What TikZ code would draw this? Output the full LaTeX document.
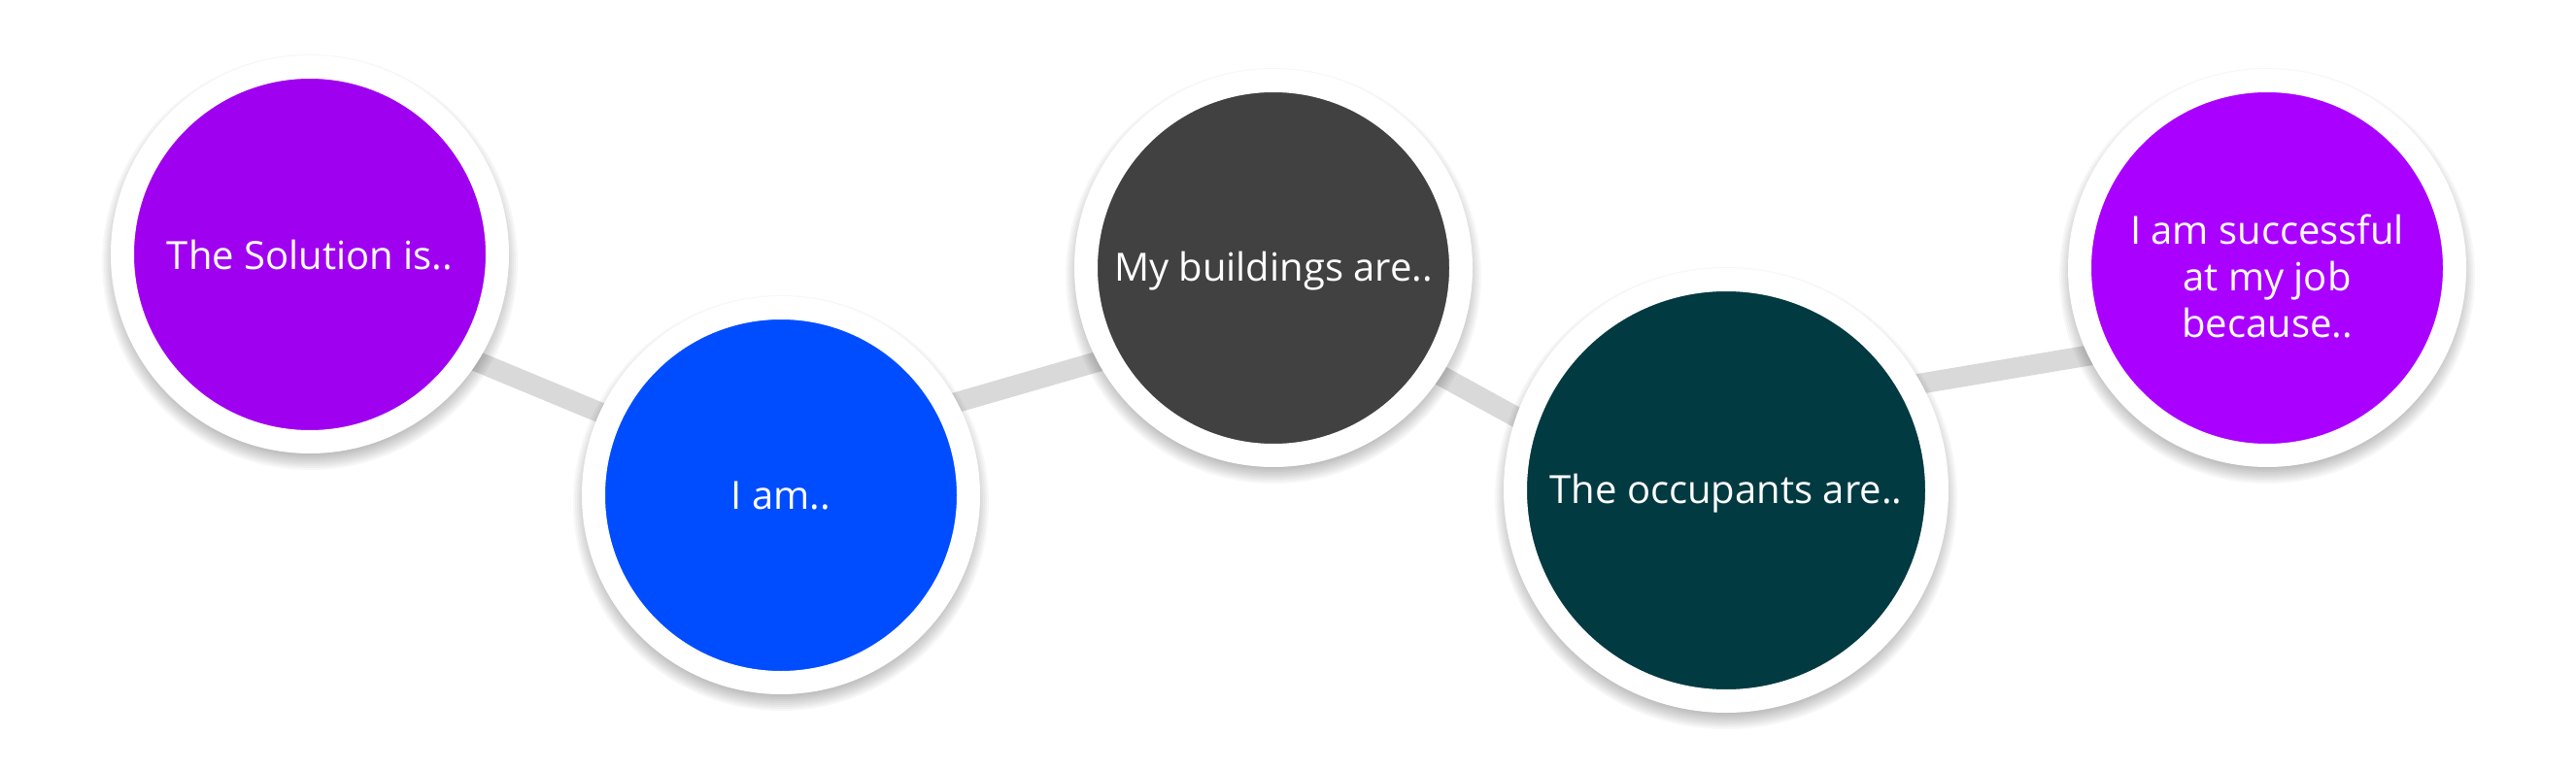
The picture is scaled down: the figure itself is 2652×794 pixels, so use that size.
\documentclass[tikz,border=0pt]{standalone}
\usepackage{fontspec}
\setmainfont{Open Sans}
\definecolor{purpleA}{HTML}{A000F0}
\definecolor{purpleB}{HTML}{AA00FF}
\definecolor{blueC}{HTML}{004DFF}
\definecolor{grayD}{HTML}{414141}
\definecolor{tealE}{HTML}{023A42}
\definecolor{connGray}{HTML}{D9D9D9}
\pgfdeclarelayer{bg}
\pgfdeclarelayer{shade}
\pgfsetlayers{bg,shade,main}
\begin{document}
\begin{tikzpicture}[x=1pt,y=-1pt,
  conn/.style={draw=connGray, line width=21pt},
  bubble/.style={circle, draw=white, line width=24pt, minimum size=386pt, inner sep=0pt},
  bigbubble/.style={bubble, minimum size=434pt},
  txt/.style={text=white, align=center, inner sep=0pt, font=\fontsize{40}{48}\selectfont}]
\useasboundingbox (0,0) rectangle (2652,794);

\node[bubble, fill=purpleA] (c1) at (319,262) {};
\node[bubble, fill=blueC] (c2) at (804,510) {};
\node[bubble, fill=grayD] (c3) at (1311,276) {};
\node[bigbubble, fill=tealE] (c4) at (1777,505) {};
\node[bubble, fill=purpleB] (c5) at (2334,276) {};

\node[txt] (t1) at ([yshift=-1pt]c1.center) {The Solution is..};
\node[txt] (t2) at ([yshift=-1pt]c2.center) {I am..};
\node[txt] (t3) at ([yshift=-3pt]c3.center) {My buildings are..};
\node[txt] (t4) at ([yshift=-3pt]c4.center) {The occupants are..};
\node[txt] (t5) at ([yshift=-8pt]c5.center) {I am successful\\at my job\\because..};

\begin{pgfonlayer}{bg}
  \fill[white] (0,0) rectangle (2652,794);
  \draw[conn] ([shift={(81,72.5)}]c1.center) -- ([shift={(-104,-51)}]c2.center);
  \draw[conn] ([shift={(96,-71)}]c2.center) -- ([shift={(-81,67.5)}]c3.center);
  \draw[conn] ([shift={(89,65)}]c3.center) -- ([shift={(-97,-10)}]c4.center);
  \draw[conn] ([shift={(123,-97)}]c4.center) -- ([shift={(-104,76.7)}]c5.center);
\end{pgfonlayer}

\begin{pgfonlayer}{shade}
  \foreach \n/\r in {c1/205,c2/205,c3/205,c4/229,c5/205}{
    \foreach \k in {0,...,9}{
      \fill[black, opacity=0.032] ([yshift=-8pt]\n.center) circle[radius={(\r+9-2*\k)*1pt}];
    }
  }
\end{pgfonlayer}
\end{tikzpicture}
\end{document}
